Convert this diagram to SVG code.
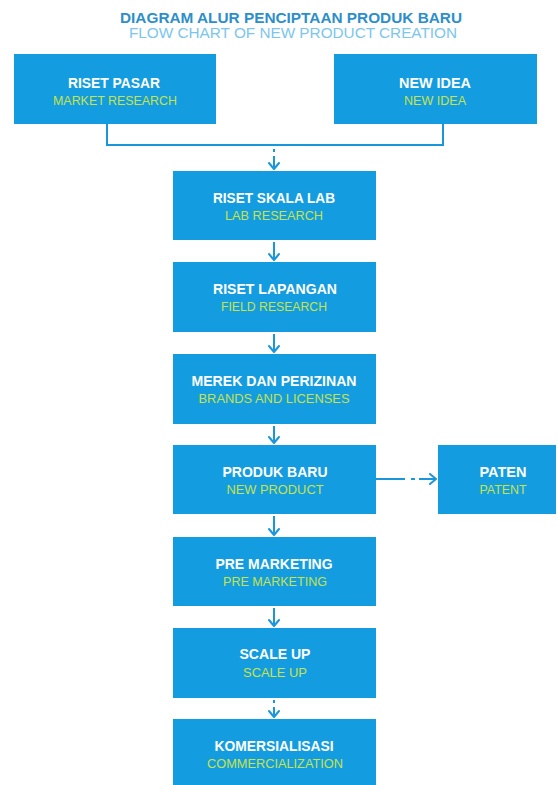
<svg xmlns="http://www.w3.org/2000/svg" width="558" height="785" viewBox="0 0 558 785">
  <style>
    .box { fill: #139de0; }
    .main { font-family: "Liberation Sans", Arial, sans-serif; font-weight: bold; font-size: 14px; fill: #ffffff; text-anchor: middle; }
    .sub { font-family: "Liberation Sans", Arial, sans-serif; font-size: 13px; fill: #c6e24c; text-anchor: middle; }
    .title1 { font-family: "Liberation Sans", Arial, sans-serif; font-weight: bold; font-size: 14px; fill: #2d8ec9; text-anchor: middle; }
    .title2 { font-family: "Liberation Sans", Arial, sans-serif; font-size: 14px; fill: #7cc5ec; text-anchor: middle; }
    .line { stroke: #1a97da; stroke-width: 2; fill: none; }
    .head { stroke: #1a97da; stroke-width: 2; fill: none; stroke-linecap: round; stroke-linejoin: round; }
  </style>
  <defs>
    <marker id="chev" markerWidth="12" markerHeight="12" refX="10" refY="6" orient="auto" markerUnits="userSpaceOnUse">
      <path d="M4,1 L10,6 L4,11" class="head"/>
    </marker>
  </defs>

  <rect width="558" height="785" fill="#ffffff"/>

  <g id="title">
    <text class="title1" x="291" y="23" textLength="342" lengthAdjust="spacingAndGlyphs">DIAGRAM ALUR PENCIPTAAN PRODUK BARU</text>
    <text class="title2" x="293" y="38" textLength="328" lengthAdjust="spacingAndGlyphs">FLOW CHART OF NEW PRODUCT CREATION</text>
  </g>

  <g id="connectors">
    <!-- merge of the two starting boxes -->
    <polyline class="line" points="107,124 107,145 443,145 443,124"/>
    <line class="line" x1="274" y1="149" x2="274" y2="152"/>
    <line class="line" x1="274" y1="156" x2="274" y2="169" marker-end="url(#chev)"/>
    <!-- main chain -->
    <line class="line" x1="274" y1="242" x2="274" y2="260" marker-end="url(#chev)"/>
    <line class="line" x1="274" y1="334" x2="274" y2="352" marker-end="url(#chev)"/>
    <line class="line" x1="274" y1="426" x2="274" y2="443" marker-end="url(#chev)"/>
    <line class="line" x1="274" y1="516" x2="274" y2="535" marker-end="url(#chev)"/>
    <line class="line" x1="274" y1="608" x2="274" y2="626" marker-end="url(#chev)"/>
    <line class="line" x1="274" y1="700" x2="274" y2="703"/>
    <line class="line" x1="274" y1="707" x2="274" y2="717" marker-end="url(#chev)"/>
    <!-- side branch to patent -->
    <line class="line" x1="376" y1="479" x2="405" y2="479"/>
    <line class="line" x1="411" y1="479" x2="415" y2="479"/>
    <line class="line" x1="419" y1="479" x2="436" y2="479" marker-end="url(#chev)"/>
  </g>

  <g id="riset-pasar">
    <rect class="box" x="14" y="54" width="202" height="70"/>
    <text class="main" x="114" y="88" textLength="92" lengthAdjust="spacingAndGlyphs">RISET PASAR</text>
    <text class="sub" x="115" y="105" textLength="124" lengthAdjust="spacingAndGlyphs">MARKET RESEARCH</text>
  </g>

  <g id="new-idea">
    <rect class="box" x="334" y="54" width="203" height="70"/>
    <text class="main" x="435" y="88" textLength="72" lengthAdjust="spacingAndGlyphs">NEW IDEA</text>
    <text class="sub" x="435" y="105" textLength="62" lengthAdjust="spacingAndGlyphs">NEW IDEA</text>
  </g>

  <g id="riset-skala-lab">
    <rect class="box" x="173" y="171" width="203" height="69"/>
    <text class="main" x="274" y="203" textLength="122" lengthAdjust="spacingAndGlyphs">RISET SKALA LAB</text>
    <text class="sub" x="274" y="220" textLength="98" lengthAdjust="spacingAndGlyphs">LAB RESEARCH</text>
  </g>

  <g id="riset-lapangan">
    <rect class="box" x="173" y="262" width="203" height="70"/>
    <text class="main" x="275" y="294" textLength="124" lengthAdjust="spacingAndGlyphs">RISET LAPANGAN</text>
    <text class="sub" x="274" y="311" textLength="106" lengthAdjust="spacingAndGlyphs">FIELD RESEARCH</text>
  </g>

  <g id="merek-perizinan">
    <rect class="box" x="173" y="354" width="203" height="70"/>
    <text class="main" x="274" y="386" textLength="165" lengthAdjust="spacingAndGlyphs">MEREK DAN PERIZINAN</text>
    <text class="sub" x="274" y="403" textLength="151" lengthAdjust="spacingAndGlyphs">BRANDS AND LICENSES</text>
  </g>

  <g id="produk-baru">
    <rect class="box" x="173" y="445" width="203" height="69"/>
    <text class="main" x="275" y="477" textLength="105" lengthAdjust="spacingAndGlyphs">PRODUK BARU</text>
    <text class="sub" x="275" y="494" textLength="97" lengthAdjust="spacingAndGlyphs">NEW PRODUCT</text>
  </g>

  <g id="paten">
    <rect class="box" x="438" y="445" width="118" height="69"/>
    <text class="main" x="503" y="477" textLength="47" lengthAdjust="spacingAndGlyphs">PATEN</text>
    <text class="sub" x="503" y="494" textLength="47" lengthAdjust="spacingAndGlyphs">PATENT</text>
  </g>

  <g id="pre-marketing">
    <rect class="box" x="173" y="537" width="203" height="69"/>
    <text class="main" x="274" y="569" textLength="117" lengthAdjust="spacingAndGlyphs">PRE MARKETING</text>
    <text class="sub" x="275" y="586" textLength="104" lengthAdjust="spacingAndGlyphs">PRE MARKETING</text>
  </g>

  <g id="scale-up">
    <rect class="box" x="173" y="628" width="203" height="70"/>
    <text class="main" x="275" y="659" textLength="71" lengthAdjust="spacingAndGlyphs">SCALE UP</text>
    <text class="sub" x="275" y="677" textLength="64" lengthAdjust="spacingAndGlyphs">SCALE UP</text>
  </g>

  <g id="komersialisasi">
    <rect class="box" x="173" y="719" width="203" height="68"/>
    <text class="main" x="274" y="751" textLength="119" lengthAdjust="spacingAndGlyphs">KOMERSIALISASI</text>
    <text class="sub" x="275" y="768" textLength="136" lengthAdjust="spacingAndGlyphs">COMMERCIALIZATION</text>
  </g>
</svg>
